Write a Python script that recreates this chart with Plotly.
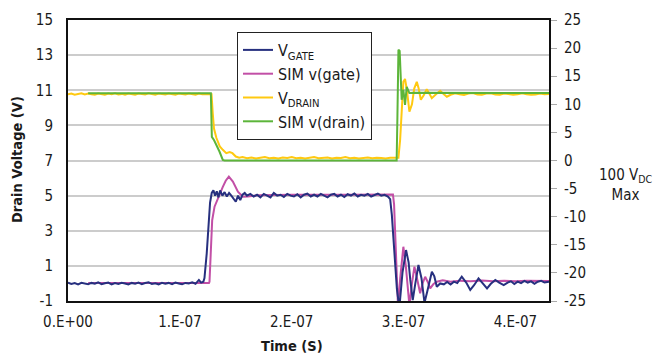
import plotly.graph_objects as go

# ---- data (time in ns, voltages in V) ----
VGATE = [(0,0.05),(3,-0.03),(6,0.02),(9,-0.06),(12,0.04),(15,0.0),(18,-0.05),(21,0.03),(24,-0.02),(27,0.06),
         (30,-0.04),(33,0.01),(36,0.05),(39,-0.05),(42,0.02),(45,-0.03),(48,0.04),(51,0.0),(54,-0.06),(57,0.03),
         (60,-0.01),(63,0.05),(66,-0.04),(69,0.02),(72,0.06),(75,-0.03),(78,0.01),(81,-0.05),(84,0.04),(87,-0.02),
         (90,0.03),(93,-0.04),(96,0.05),(99,0.0),(102,-0.05),(105,0.03),(108,0.0),(111,0.06),(114,-0.02),(117,0.2),
         (119,0.05),(121,0.1),(122,0.3),(124,1.7),(125.5,3.4),(127,4.6),(128.5,5.15),(130,5.3),(131.5,5.0),(133,5.25),
         (134.5,4.9),(136,5.3),(138,5.0),(140,5.2),(142,4.95),(144,5.15),(146,5.0),(148,4.8),(150,4.65),(152,5.0),
         (154,4.75),(156,5.05),(158,5.15),(160,5.0),(163,5.1),(166,4.95),(169,5.05),(172,4.9),(175,5.1),(178,5.0),
         (181,4.9),(184,5.15),(187,5.0),(190,5.05),(193,4.92),(196,5.1),(199,5.0),(202,4.95),(205,5.08),(208,4.9),
         (211,5.05),(214,5.12),(217,4.95),(220,5.05),(223,4.95),(226,5.1),(229,5.0),(232,4.9),(235,5.05),(238,5.1),
         (241,4.95),(244,5.05),(247,4.92),(250,5.08),(253,5.0),(256,5.12),(259,4.95),(262,5.05),(265,5.0),(268,5.1),
         (271,4.95),(274,5.05),(277,5.12),(280,5.0),(283,5.05),(286,4.95),(288,4.8),(289.5,3.9),(291,2.6),(292.5,1.0),
         (294,-0.3),(296.2,-1.4),(299,0.6),(302.2,1.9),(304.5,1.2),(306,0.2),(308.2,-0.95),(310.5,0.0),(313.3,1.05),
         (316,0.3),(318.7,-1.1),(321,-0.5),(325.3,0.67),(327.5,0.4),(329.7,-0.19),(332.7,0.0),(336,-0.05),(339,0.08),
         (342,-0.06),(345,0.1),(348,0.02),(352,0.38),(356,0.05),(359.6,-0.37),(363,-0.1),(367,0.29),(371,0.0),
         (374.6,-0.28),(378,-0.02),(382,0.2),(385.5,0.05),(389.5,-0.1),(393,0.05),(396,0.12),(399,-0.03),(402,0.1),
         (405,0.02),(408,0.15),(411,0.05),(414,0.12),(417,-0.02),(420,0.1),(423,0.15),(426,0.05),(430,0.1)]

SIM_GATE = [(18,0.02),(30,0.02),(60,0.02),(90,0.02),(120,0.02),(126,0.03),(126.5,0.1),(127,0.77),(128,1.7),
            (128.9,3.6),(131,4.37),(134,4.85),(138.4,5.5),(141,5.85),(143.8,6.08),(147.4,5.8),(151.9,5.22),
            (156.3,4.94),(160.8,4.95),(170,5.02),(200,5.05),(250,5.05),(280,5.06),(290.5,5.06),(291.5,4.5),
            (293,1.5),(295,-1.3),(297,0.3),(299.8,2.09),(302,1.0),(305.2,-1.25),(307.5,0.0),(309.7,0.95),
            (312,0.3),(314.8,-0.56),(317,0.0),(319.3,0.38),(321.5,0.1),(323.8,-0.28),(326.5,-0.05),(329.7,0.1),
            (335,0.18),(342,0.1),(350,0.16),(360,0.12),(370,0.17),(380,0.12),(390,0.15),(400,0.13),(410,0.16),
            (420,0.13),(430,0.14)]

VDRAIN = [(0,11.8),(3,11.9),(6,11.7),(9,11.85),(12,11.95),(15,11.75),(18,11.9),(21,11.8),(24,11.7),(27,11.9),
          (30,11.85),(33,11.7),(36,11.9),(39,11.8),(42,11.95),(45,11.75),(48,11.85),(51,11.7),(54,11.9),(57,11.8),
          (60,11.7),(63,11.9),(66,11.85),(69,11.75),(72,11.95),(75,11.8),(78,11.7),(81,11.9),(84,11.8),(87,11.75),
          (90,11.9),(93,11.85),(96,11.7),(99,11.9),(102,11.8),(105,11.75),(108,11.9),(111,11.85),(114,11.7),(117,11.9),
          (120,11.8),(123,11.85),(126,11.75),(128.3,11.8),(129.4,8.4),(130.5,5.7),(132.7,4.0),(135.7,2.5),(138.4,1.9),
          (141.5,1.3),(144.5,1.5),(147,1.3),(150,0.7),(153,0.5),(156,0.6),(160,0.4),(164,0.55),(168,0.35),(172,0.5),
          (176,0.6),(180,0.4),(184,0.5),(188,0.35),(192,0.55),(196,0.45),(200,0.6),(204,0.4),(208,0.5),(212,0.35),
          (216,0.5),(220,0.6),(224,0.4),(228,0.45),(232,0.55),(236,0.35),(240,0.5),(244,0.45),(248,0.6),(252,0.4),
          (256,0.5),(260,0.35),(264,0.5),(268,0.55),(272,0.4),(276,0.5),(280,0.45),(284,0.35),(288,0.5),(292,0.45),
          (295.4,0.5),(296.9,3.65),(298.3,9.6),(299.8,14.0),(301.3,14.5),(303,12.5),(305.2,8.7),(307.5,10.0),
          (309.5,12.8),(311.8,14.0),(313.5,12.8),(315.4,10.8),(318,11.6),(320.7,12.7),(323,11.9),(325.2,11.1),
          (329,11.8),(332.7,12.4),(336,11.8),(338.7,11.35),(342,11.7),(346,11.95),(350,11.8),(354,11.65),(358,11.9),
          (362,12.0),(366,11.75),(370,11.7),(374,11.9),(378,11.95),(382,11.75),(386,11.7),(390,11.9),(394,11.85),
          (398,11.7),(402,11.8),(406,11.95),(410,11.8),(414,11.7),(418,11.75),(422,11.9),(426,11.8),(430,11.85)]

SIM_DRAIN = [(18,11.95),(60,11.95),(100,11.95),(127.7,11.95),(128.6,4.2),(130.6,3.6),(135.4,1.6),(138.4,0.1),
             (140,0.0),(200,0.0),(293.8,0.0),(294.5,8.0),(295.4,19.7),(296.5,19.5),(297.5,15.5),(298.3,10.8),
             (299.8,12.6),(301.3,9.9),(302.8,13.1),(305.2,12.0),(310,12.05),(350,12.0),(430,12.0)]

X_TICKS = [0, 1e-7, 2e-7, 3e-7, 4e-7]
X_TICK_TEXT = ["0.E+00", "1.E-07", "2.E-07", "3.E-07", "4.E-07"]
Y_LEFT_TICKS = [-1, 1, 3, 5, 7, 9, 11, 13, 15]
Y_RIGHT_TICKS = [-25, -20, -15, -10, -5, 0, 5, 10, 15, 20, 25]

FONT = "Liberation Sans Narrow, DejaVu Sans Condensed, Liberation Sans, Arial, sans-serif"


def xs(series):
    return [p[0] * 1e-9 for p in series]


def ys(series):
    return [p[1] for p in series]


fig = go.Figure()
fig.add_trace(go.Scatter(x=xs(SIM_GATE), y=ys(SIM_GATE), mode="lines", name="SIM v(gate)",
                         line=dict(color="#c24fa6", width=2), legendrank=2))
fig.add_trace(go.Scatter(x=xs(VGATE), y=ys(VGATE), mode="lines", name="V<sub>GATE</sub>",
                         line=dict(color="#27307f", width=2), legendrank=1))
fig.add_trace(go.Scatter(x=xs(VDRAIN), y=ys(VDRAIN), mode="lines", name="V<sub>DRAIN</sub>",
                         line=dict(color="#ffc910", width=2), yaxis="y2", legendrank=3))
fig.add_trace(go.Scatter(x=xs(SIM_DRAIN), y=ys(SIM_DRAIN), mode="lines", name="SIM v(drain)",
                         line=dict(color="#5cb53a", width=2), yaxis="y2", legendrank=4))

# page offset of the default html body margin
OFF = 8
PAGE_W, PAGE_H = 661, 358
PL, PR, PT, PB = 68, 549, 20, 301  # plot area in page pixels
W, H = PAGE_W - OFF, PAGE_H - OFF
L, T = PL - OFF, PT - OFF
R, B = PAGE_W - PR, PAGE_H - PB


def px(xp):
    return (xp - PL) / (PR - PL)


def py(yp):
    return (PB - yp) / (PB - PT)


fig.update_layout(
    width=W, height=H,
    margin=dict(l=L, r=R, t=T, b=B, autoexpand=False),
    paper_bgcolor="white", plot_bgcolor="white",
    font=dict(family=FONT, size=15, color="#1a1a1a"),
    showlegend=True,
    legend=dict(x=px(237), y=py(32), xanchor="left", yanchor="top",
                bordercolor="#222", borderwidth=1, bgcolor="white",
                font=dict(size=16, family=FONT), tracegroupgap=0, itemwidth=30),
    xaxis=dict(range=[0, 4.3e-7], tickvals=X_TICKS, ticktext=X_TICK_TEXT, showgrid=False,
               showline=True, linecolor="#111", linewidth=2, mirror=True, zeroline=False,
               ticks="", tickfont=dict(size=15), ticklabelstandoff=6),
    yaxis=dict(range=[-1, 15], tickvals=Y_LEFT_TICKS, ticktext=[str(v) for v in Y_LEFT_TICKS],
               showgrid=True, gridcolor="#cccccc", gridwidth=1.5,
               showline=True, linecolor="#111", linewidth=2, zeroline=False, ticks="",
               ticklabelstandoff=10, tickfont=dict(size=15)),
    yaxis2=dict(range=[-25, 25], tickvals=Y_RIGHT_TICKS, ticktext=[str(v) for v in Y_RIGHT_TICKS],
                overlaying="y", side="right", showgrid=False,
                showline=True, linecolor="#111", linewidth=2, zeroline=False, ticks="outside",
                ticklen=6, tickcolor="#aaaaaa", tickfont=dict(size=15), ticklabelstandoff=4),
    annotations=[
        dict(text="<b>Drain Voltage (V)</b>", x=px(17), y=py(160), xref="paper", yref="paper",
             xanchor="center", yanchor="middle",
             textangle=-90, showarrow=False, font=dict(size=14.5, family=FONT)),
        dict(text="<b>Time (S)</b>", x=px(292), y=py(346), xref="paper", yref="paper",
             xanchor="center", yanchor="middle",
             showarrow=False, font=dict(size=14.5, family=FONT)),
        dict(text="100 V<sub>DC</sub><br>Max", x=px(626), y=py(185), xref="paper", yref="paper",
             xanchor="center", yanchor="middle",
             showarrow=False, align="center", font=dict(size=15, family=FONT)),
    ],
)

fig.write_html("out.html")
